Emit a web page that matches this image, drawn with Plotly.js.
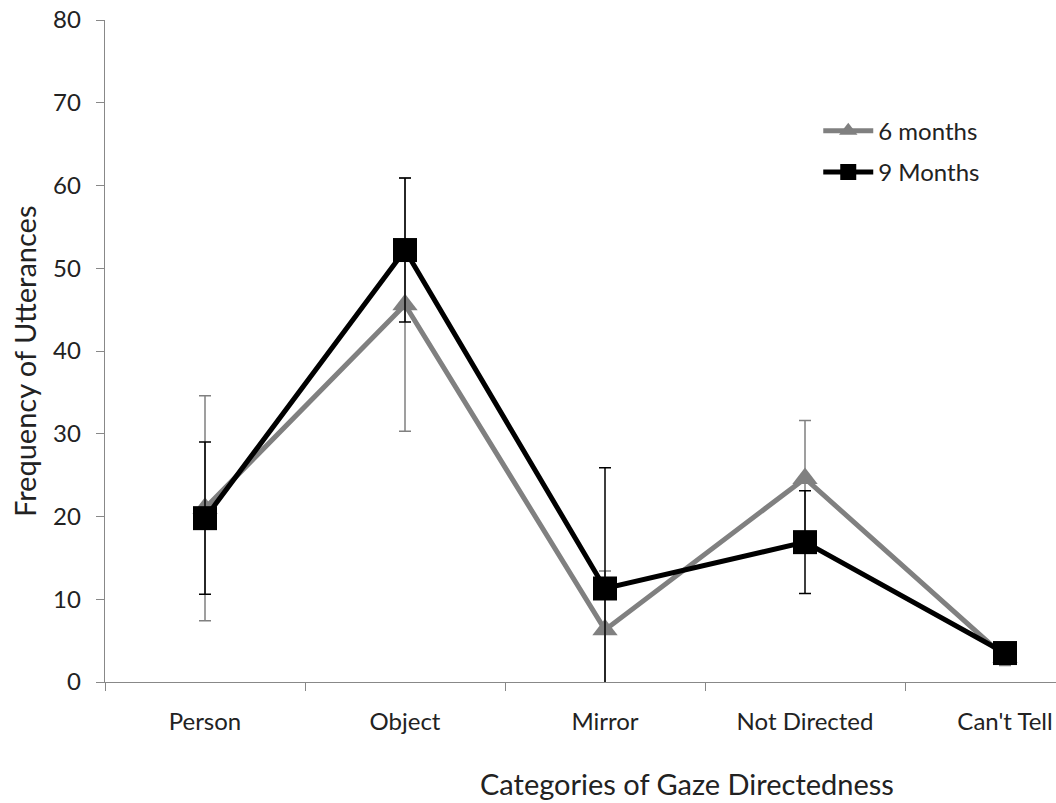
<!DOCTYPE html>
<html>
<head>
<meta charset="utf-8">
<script src="https://cdn.plot.ly/plotly-3.0.1.min.js"></script>
<style>html,body{margin:0;padding:0;background:#fff;}#chart{width:1056px;height:803px;}</style>
</head>
<body>
<div id="chart"></div>
<script>
const categories = ["Person", "Object", "Mirror", "Not Directed", "Can't Tell"];
const sixMonths = [21.0, 45.6, 6.3, 24.6, 3.0];
const sixMonthsErr = [13.6, 15.3, 7.1, 7.0, 1.0];
const nineMonths = [19.8, 52.2, 11.3, 16.9, 3.5];
const nineMonthsErr = [9.2, 8.7, 14.6, 6.2, 1.0];
const yTicks = [0, 10, 20, 30, 40, 50, 60, 70, 80];
const xTitle = "Categories of Gaze Directedness";
const yTitle = "Frequency of Utterances";

const font = "Lato, 'Open Sans', sans-serif";

const traces = [
  {
    x: categories, y: sixMonths, name: "6 months", type: "scatter", mode: "lines+markers",
    legendgroup: "g6",
    line: {color: "#808080", width: 5},
    marker: {symbol: "triangle-up", size: 22, color: "#808080"},
    error_y: {type: "data", array: sixMonthsErr, visible: true, color: "#808080", thickness: 1.5, width: 6}
  },
  {
    x: categories, y: nineMonths, name: "9 Months", type: "scatter", mode: "lines+markers",
    legendgroup: "g9",
    line: {color: "#000000", width: 5},
    marker: {symbol: "square", size: 24, color: "#000000"},
    error_y: {type: "data", array: nineMonthsErr, visible: true, color: "#000000", thickness: 1.5, width: 6}
  }
];

const layout = {
  width: 1056, height: 803,
  margin: {l: 105, r: 0, t: 20, b: 121},
  paper_bgcolor: "#ffffff", plot_bgcolor: "#ffffff",
  font: {family: font, color: "#222"},
  showlegend: true,
  legend: {x: 0.75, y: 0.866, xanchor: "left", yanchor: "top", font: {size: 24, family: font, color: "#222"},
           bgcolor: "rgba(0,0,0,0)", itemwidth: 50, tracegroupgap: 7},
  xaxis: {
    type: "category", range: [-0.5, 4.255], tickson: "boundaries",
    ticks: "outside", ticklen: 8, tickcolor: "#888", showline: true, linecolor: "#888", linewidth: 1.3,
    showgrid: false, zeroline: false,
    tickfont: {size: 24, family: font, color: "#222"}, ticklabelstandoff: 18
  },
  yaxis: {
    range: [0, 80], tickvals: yTicks, ticks: "outside", ticklen: 8, tickcolor: "#888",
    showline: true, linecolor: "#888", linewidth: 1.3, showgrid: false, zeroline: false,
    tickfont: {size: 24, family: font, color: "#222"}, ticklabelstandoff: 10
  },
  annotations: [
    {text: xTitle, xref: "paper", yref: "paper", x: 0.612, y: -0.1526, xanchor: "center", yanchor: "middle",
     showarrow: false, font: {size: 29, family: font, color: "#222"}},
    {text: yTitle, xref: "paper", yref: "paper", x: -0.0841, y: 0.4834, xanchor: "center", yanchor: "middle",
     textangle: -90, showarrow: false, font: {size: 29, family: font, color: "#222"}}
  ]
};

Plotly.newPlot("chart", traces, layout, {displayModeBar: false, staticPlot: true});
</script>
</body>
</html>
